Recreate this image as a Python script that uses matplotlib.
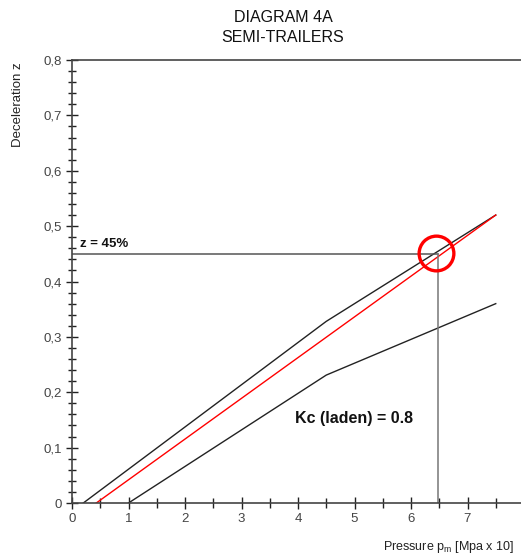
import matplotlib
matplotlib.use("Agg")
import matplotlib.pyplot as plt
from matplotlib.ticker import MultipleLocator, FuncFormatter

plt.rcParams['font.family'] = ['Liberation Sans', 'DejaVu Sans']

# data
upper_x = [0.2, 4.5, 7.5]
upper_y = [0.0, 0.328, 0.52]
red_x = [0.43, 7.5]
red_y = [0.0, 0.52]
lower_x = [1.0, 4.5, 7.5]
lower_y = [0.0, 0.231, 0.36]
z_level = 0.45
p_level = 6.48
circle_xy = (6.44, 0.452)

fig = plt.figure(figsize=(5.21, 5.55), dpi=100)
ax = fig.add_axes([72/521, 52/555, 452/521, 443/555])
ax.set_xlim(0, 8)
ax.set_ylim(0, 0.8)

ax.plot(upper_x, upper_y, color="#222222", lw=1.0)
ax.plot(red_x, red_y, color="#ff0000", lw=1.0)
ax.plot(lower_x, lower_y, color="#222222", lw=1.0)
ax.plot([0, p_level], [z_level, z_level], color="#555555", lw=1.1)
ax.plot([p_level, p_level], [0, z_level], color="#777777", lw=1.1)
ax.plot([circle_xy[0]], [circle_xy[1]], marker="o", ms=25, mfc="none",
        mec="#ff0000", mew=2.4)

ax.text(0.15, 0.462, "z = 45%", fontsize=9.5, fontweight="bold", color="#111111")
ax.text(3.95, 0.144, "Kc (laden) = 0.8", fontsize=11.5, fontweight="bold", color="#111111")

for s in ["right", "bottom", "left", "top"]:
    ax.spines[s].set_color("#444444")
    ax.spines[s].set_linewidth(1.2)
ax.spines["right"].set_visible(False)

ax.xaxis.set_major_locator(MultipleLocator(1))
ax.xaxis.set_minor_locator(MultipleLocator(0.5))
ax.yaxis.set_major_locator(MultipleLocator(0.1))
ax.yaxis.set_minor_locator(MultipleLocator(0.02))
ax.yaxis.set_major_formatter(FuncFormatter(lambda v, p: "0" if abs(v) < 1e-9 else f"{v:.1f}".replace(".", ",")))
ax.tick_params(which="both", direction="inout", color="#222222", width=1.0)
ax.tick_params(which="major", length=8, labelsize=9.5, labelcolor="#444444", pad=3)
ax.tick_params(which="minor", length=7)
ax.tick_params(axis="y", which="minor", length=6)

fig.text(283/521, 1 - 17/555, "DIAGRAM 4A", ha="center", va="center", fontsize=11.5, color="#111111")
fig.text(283/521, 1 - 37/555, "SEMI-TRAILERS", ha="center", va="center", fontsize=11.5, color="#111111")
fig.text(18/521, 1 - 105/555, "Deceleration z", rotation=90, ha="center", va="center", fontsize=9.5, color="#222222")
fig.text(383/521, 1 - 547/555, r"Pressure p$_\mathregular{m}$ [Mpa x 10]", ha="left", va="center", fontsize=9, color="#222222")

fig.savefig("out.png", dpi=100)
